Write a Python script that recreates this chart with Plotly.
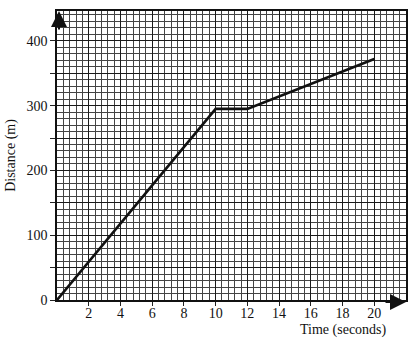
import plotly.graph_objects as go

# Distance-time journey
time_s = [0, 10, 12, 20]
distance_m = [0, 295, 295, 372]

x_ticks = [2, 4, 6, 8, 10, 12, 14, 16, 18, 20]
y_ticks = [0, 50, 100, 150, 200, 250, 300, 350, 400]
y_labels = ["0", "", "100", "", "200", "", "300", "", "400"]

X_MAX = 22
Y_MAX = 446

serif = "'Times New Roman', 'Liberation Serif', serif"

fig = go.Figure()
fig.add_trace(go.Scatter(
    x=time_s, y=distance_m, mode="lines",
    line=dict(color="#111111", width=2.6),
    showlegend=False, hoverinfo="skip",
))

fig.update_layout(
    width=417, height=342,
    margin=dict(l=53, r=9, t=9, b=42),
    paper_bgcolor="white", plot_bgcolor="white",
    font=dict(family=serif, size=14, color="#111111"),
    xaxis=dict(
        range=[0, X_MAX], tickvals=x_ticks,
        showgrid=True, gridcolor="#1a1a1a", gridwidth=1.4,
        minor=dict(dtick=0.4, tick0=0, showgrid=True, gridcolor="#444444", gridwidth=0.9),
        ticks="outside", ticklen=4, tickcolor="#222222",
        ticklabelstandoff=-5,
        showline=True, linecolor="#111111", linewidth=1.5, mirror=True,
        zeroline=False, tickfont=dict(family=serif, size=14),
    ),
    yaxis=dict(
        range=[0, Y_MAX], tickvals=y_ticks, ticktext=y_labels,
        showgrid=True, gridcolor="#1a1a1a", gridwidth=1.4,
        minor=dict(dtick=10, tick0=0, showgrid=True, gridcolor="#444444", gridwidth=0.9),
        ticks="outside", ticklen=5, tickcolor="#222222",
        showline=True, linecolor="#111111", linewidth=1.5, mirror=True,
        zeroline=False, tickfont=dict(family=serif, size=14),
        title=dict(text="Distance (m)", font=dict(family=serif, size=14), standoff=8),
    ),
    annotations=[
        # arrowhead at top of distance axis
        dict(x=0, y=Y_MAX, xref="x", yref="y", ax=0, ay=20, axref="pixel", ayref="pixel",
             showarrow=True, arrowhead=2, arrowsize=1.6, arrowwidth=2, arrowcolor="#111111",
             text="", xshift=2),
        # arrowhead at right end of time axis
        dict(x=X_MAX, y=0, xref="x", yref="y", ax=-22, ay=0,
             showarrow=True, arrowhead=2, arrowsize=1.6, arrowwidth=2, arrowcolor="#111111",
             text="", yshift=-2),
        dict(x=0.82, y=-0.068, xref="paper", yref="paper", xanchor="center", yanchor="top",
             text="Time (seconds)", showarrow=False, font=dict(family=serif, size=14)),
    ],
)

fig.write_html("out.html")
